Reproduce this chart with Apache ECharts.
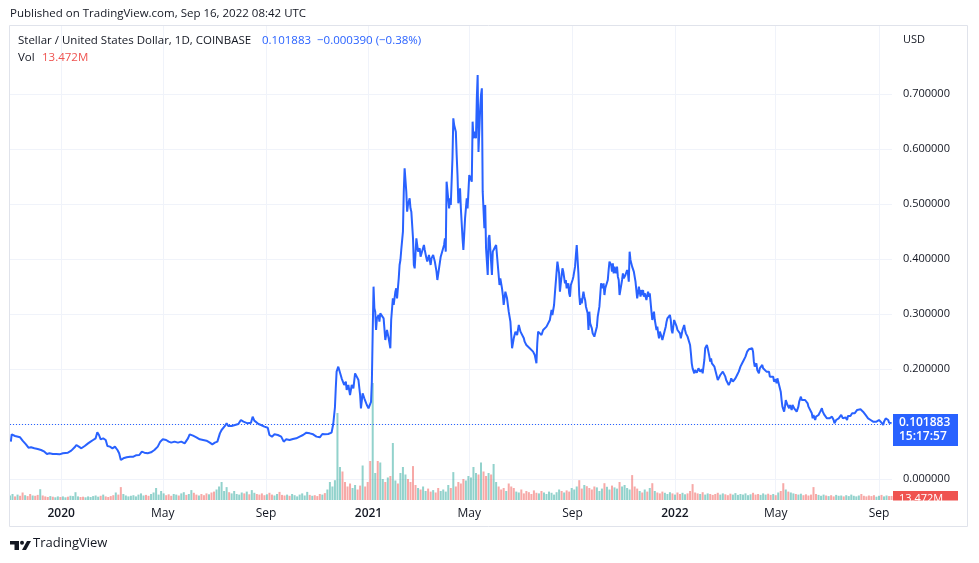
<!DOCTYPE html>
<html><head><meta charset="utf-8">
<script src="https://cdn.jsdelivr.net/npm/echarts@6/dist/echarts.min.js"></script>
<style>html,body{margin:0;padding:0;background:#fff}#c{width:979px;height:563px}</style>
</head><body><div id="c"></div>
<script>
// ---- data ----
const START_DATE = '2019-11-01';          // day 0
// [day offset from START_DATE, close price USD]
const pricePoints = [
[1,.0679],[2,.0812],[6,.0782],[8,.0812],[12,.0758],[15,.0697],[19,.0630],[22,.0570],[25,.0576],[29,.0558],[33,.0545],[37,.0527],[41,.0497],[44,.0455],[47,.0467],[51,.0455],[55,.0455],[59,.0448],[63,.0467],[65,.0485],[69,.0479],[73,.0515],[77,.0576],[79,.0618],[82,.0588],[85,.0558],[89,.0600],[93,.0648],[96,.0679],[99,.0709],[102,.0739],[104,.0848],[106,.0800],[108,.0721],[111,.0739],[114,.0709],[116,.0600],[119,.0588],[122,.0558],[125,.0588],[128,.0527],[130,.0467],[132,.0345],[135,.0376],[139,.0394],[143,.0406],[147,.0406],[150,.0430],[154,.0436],[157,.0497],[160,.0479],[164,.0467],[168,.0485],[172,.0527],[176,.0588],[179,.0679],[182,.0721],[186,.0709],[189,.0679],[192,.0661],[196,.0679],[200,.0661],[204,.0679],[208,.0648],[212,.0739],[214,.0812],[218,.0788],[222,.0758],[226,.0721],[230,.0709],[234,.0697],[238,.0661],[241,.0630],[244,.0661],[247,.0679],[250,.0830],[252,.0891],[256,.0964],[258,.1012],[260,.0964],[264,.0964],[268,.0982],[272,.1000],[275,.1073],[278,.1042],[280,.1061],[283,.1012],[287,.1024],[289,.1133],[291,.1061],[293,.1042],[296,.1000],[299,.0982],[303,.0952],[307,.0933],[309,.0800],[312,.0770],[315,.0812],[319,.0800],[323,.0770],[326,.0679],[329,.0721],[333,.0709],[337,.0727],[341,.0739],[345,.0770],[349,.0800],[353,.0842],[357,.0830],[361,.0812],[365,.0770],[369,.0758],[372,.0818],[375,.0812],[379,.0818],[383,.0842],[385,.1000],[386,.1150],[387,.1300],[388,.1650],[389,.1952],
[391,.2042],[393,.2012],[395,.1830],[397,.1861],[398,.1709],[400,.1770],[401,.1618],[403,.1709],[405,.1527],[407,.1709],[409,.1648],[411,.1921],[413,.1861],[415,.1800],[417,.1527],[418,.1285],[420,.1558],[422,.1467],[425,.1345],[427,.1285],[429,.1315],[430,.1400],[431,.1770],[432,.2679],[433,.3497],[434,.3103],[435,.3042],[436,.2709],[437,.2921],[439,.2982],[440,.2861],[441,.3012],[443,.3042],[445,.2921],[447,.2527],[449,.2709],[450,.2679],[451,.2558],[453,.2376],[454,.2891],[455,.2921],[456,.3285],[457,.3164],[459,.3406],[460,.3467],[461,.3285],[463,.3648],[464,.3891],[465,.3982],[466,.4164],[468,.4497],[469,.5224],[470,.5648],[472,.5224],[473,.4861],[474,.4982],[476,.5103],[477,.4921],[478,.4861],[480,.4376],[481,.3891],[482,.3830],[484,.4376],[485,.4255],[486,.4133],[488,.4194],[489,.4042],[491,.4073],[493,.4255],[494,.4164],[496,.4012],[497,.3952],[499,.4073],[501,.3891],[502,.4012],[504,.4073],[506,.3952],[508,.3770],[509,.3618],[511,.3830],[513,.4042],[515,.4073],[517,.4255],[518,.4376],[519,.4133],[520,.5406],[522,.5436],[523,.4921],[524,.5103],[525,.4982],[527,.5830],[528,.6558],[529,.6436],[531,.6315],[532,.5891],[533,.5527],[534,.5012],[536,.5285],[537,.4921],[539,.4376],[540,.4164],[542,.4739],[544,.5103],[545,.4921],[547,.5527],[548,.5558],[550,.5406],[551,.6497],[552,.6194],[553,.6315],[555,.6194],[556,.6921],[557,.7345],[558,.5945],[560,.6739],[561,.6982],[562,.7103],[563,.5224],[565,.4558],[566,.4982],[567,.4194],[569,.3709],[570,.4376],[571,.4436],[573,.3952],[574,.3709],[575,.4133],[577,.4194],[579,.4255],[581,.3891],[583,.3527],[584,.3648],[586,.3467],[587,.3345],[588,.3164],[590,.3406],[592,.3285],[594,.3042],[596,.2861],[598,.2376],[600,.2558],[602,.2679],[604,.2618],[606,.2800],[608,.2679],[610,.2648],[612,.2558],[613,.2497],
[615,.2436],[617,.2406],[619,.2376],[621,.2345],[623,.2315],[625,.2255],[627,.2103],[628,.2467],[629,.2679],[631,.2648],[633,.2618],[635,.2709],[637,.2739],[639,.2770],[641,.2800],[643,.2891],[645,.3073],[646,.2982],[648,.3164],[649,.3376],[650,.3345],[652,.3952],[653,.3921],[654,.3739],[655,.3406],[656,.3558],[658,.3830],[659,.3770],[660,.3739],[661,.3558],[662,.3618],[663,.3467],[665,.3558],[666,.3376],[667,.3315],[668,.3527],[670,.3618],[671,.3679],[673,.3861],[674,.4073],[675,.4255],[677,.3739],[678,.3345],[679,.3164],[680,.3285],[681,.3194],[683,.3406],[684,.3315],[685,.3255],[686,.3133],[688,.3012],[689,.2709],[690,.3042],[691,.2830],[693,.2739],[694,.2648],[696,.2588],[697,.2648],[699,.2770],[700,.2952],[702,.3133],[703,.3164],[704,.3558],[706,.3467],[707,.3558],[708,.3345],[709,.3467],[711,.3467],[712,.3618],[713,.3800],[714,.3952],[716,.3891],[717,.3770],[718,.3921],[719,.3739],[720,.3861],[722,.3739],[723,.3861],[724,.3679],[725,.3618],[726,.3345],[727,.3436],[729,.3618],[730,.3739],[731,.3648],[732,.3618],[733,.3709],[735,.3800],[736,.3739],[737,.3588],[738,.4133],[739,.3982],[741,.3861],[742,.3830],[743,.3770],[745,.3588],[746,.3436],[747,.3285],[748,.3376],[749,.3497],[751,.3315],[752,.3436],[753,.3345],[754,.3436],[755,.3315],[756,.3376],[758,.3255],[759,.3345],[760,.3406],[761,.3315],[762,.3376],[764,.3042],[765,.2891],[766,.2861],[767,.3042],[768,.2891],[770,.2709],[771,.2770],[772,.2648],[773,.2558],[774,.2679],[776,.2588],[777,.2527],[778,.2558],[780,.2709],[781,.2770],[782,.2861],[783,.2921],[785,.2952],[786,.2982],[787,.2891],[788,.2709],[789,.2648],[791,.2891],[792,.2921],[793,.2861],[794,.2770],[795,.2709],[797,.2679],[798,.2648],[799,.2558],[801,.2709],[802,.2739],[803,.2800],[804,.2709],[805,.2648],[807,.2588],[808,.2558],[810,.2436],[811,.2285],[812,.2103],[813,.2012],
[815,.1921],[816,.1982],[818,.1933],[820,.2012],[822,.1952],[824,.1994],[825,.1921],[827,.2164],[828,.2376],[830,.2436],[831,.2376],[833,.2224],[834,.2133],[835,.2194],[836,.2103],[838,.2133],[839,.2042],[840,.1982],[842,.1952],[843,.1800],[844,.1830],[846,.1891],[848,.1921],[849,.1952],[851,.1982],[852,.1861],[853,.1800],[855,.1830],[856,.1709],[858,.1770],[859,.1830],[861,.1770],[862,.1800],[864,.1830],[866,.1891],[868,.1952],[870,.2042],[872,.2103],[874,.2164],[876,.2224],[878,.2315],[880,.2358],[882,.2345],[884,.2376],[885,.2315],[886,.2133],[887,.2042],[889,.2103],[890,.1982],[892,.1921],[893,.2012],[895,.2042],[896,.2073],[897,.2012],[899,.2042],[901,.1952],[902,.1982],[904,.1952],[905,.1861],[907,.1830],[909,.1861],[910,.1770],[912,.1812],[913,.1739],[914,.1830],[916,.1709],[917,.1679],[918,.1588],[919,.1436],[920,.1315],[922,.1224],[923,.1315],[924,.1436],[925,.1406],[926,.1345],[928,.1285],[929,.1345],[931,.1255],[932,.1345],[934,.1285],[936,.1255],[937,.1224],[939,.1315],[940,.1406],[942,.1497],[943,.1436],[945,.1467],[947,.1436],[948,.1406],[950,.1376],[951,.1315],[953,.1285],[955,.1194],[956,.1103],[957,.1164],[959,.1073],[960,.1133],[962,.1103],[963,.1164],[965,.1224],[967,.1285],[968,.1224],[970,.1164],[971,.1133],[973,.1103],[974,.1133],[976,.1103],[978,.1121],[979,.1133],[981,.1073],[982,.1012],[984,.1073],[986,.1042],[987,.1103],[989,.1121],[990,.1164],[992,.1103],[993,.1073],[995,.1121],[997,.1073],[998,.1145],[1000,.1121],[1001,.1145],[1003,.1194],[1005,.1224],[1006,.1194],[1008,.1224],[1009,.1255],[1011,.1285],[1013,.1267],[1014,.1255],[1016,.1224],[1017,.1194],[1019,.1164],[1021,.1133],[1022,.1103],[1024,.1073],[1025,.1073],[1027,.1085],[1028,.1042],[1030,.1061],[1032,.1042],[1033,.1042],[1035,.1073],[1036,.1042],[1038,.1024],[1040,.0982],[1041,.1042],[1043,.1103],[1044,.1133],[1046,.1073],[1047,.1024],[1049,.1023],[1050,.101883]
];
// volume (millions), one bar every VOLUME_STEP days starting at day 0
const VOLUME_STEP = 3;
const volumes = [
15,20,12,18,14,25,16,13,20,15,
14,17,36,15,12,10,13,11,9,12,
10,12,9,11,14,13,26,12,10,11,
9,12,10,13,15,11,14,18,12,10,
13,16,25,18,43,20,15,12,14,16,
12,18,22,15,17,14,20,25,40,18,
30,22,16,19,14,20,18,15,22,26,
17,20,33,24,18,15,20,16,22,19,
25,28,35,45,60,30,43,26,22,30,
20,18,25,22,28,19,33,24,20,18,
22,16,19,24,18,15,20,27,17,15,
18,14,20,16,12,18,22,15,27,17,
14,16,13,20,18,23,35,60,45,66,
290,110,95,60,45,55,40,50,35,48,
115,45,60,130,390,90,130,125,70,60,
75,80,190,65,55,90,110,85,70,60,
113,50,40,35,45,30,38,28,33,25,
40,30,35,28,50,40,93,45,60,55,
70,65,80,75,110,90,85,125,95,80,
90,85,120,60,45,35,40,30,55,45,
40,28,25,35,22,30,26,20,32,24,
22,30,25,20,28,24,18,26,35,30,
25,32,28,40,35,45,66,38,50,46,
40,35,45,42,30,38,56,44,35,48,
42,38,60,45,50,40,35,83,45,38,
30,25,35,28,40,56,30,25,22,28,
24,20,26,22,18,25,20,24,19,22,
30,53,25,22,20,26,18,22,20,17,
20,24,18,22,19,16,21,18,23,17,
20,18,22,16,19,24,18,20,17,22,
18,21,17,20,16,25,30,56,35,28,
25,22,20,18,21,16,19,15,18,43,
20,17,14,18,15,13,16,12,17,14,
15,12,16,13,18,14,12,15,20,14,
12,15,13,16,11,14,17,12,15,13,13.472
];
const tickDates  = ['2020-01-01','2020-05-01','2020-09-01','2021-01-01','2021-05-01','2021-09-01','2022-01-01','2022-05-01','2022-09-01'];
const tickLabels = ['2020','May','Sep','2021','May','Sep','2022','May','Sep'];
const priceTicks = [0,0.1,0.2,0.3,0.4,0.5,0.6,0.7];
const lastPrice = pricePoints[pricePoints.length-1][1];
const lastVolume = volumes[volumes.length-1];
const lastTime = '15:17:57';

// ---- build ----
const DAY = 86400000;
const t0 = Date.parse(START_DATE + 'T00:00:00Z');
const tickDays = tickDates.map(d => Math.round((Date.parse(d + 'T00:00:00Z') - t0) / DAY));
function priceAt(day){ let v = pricePoints[0][1]; for (const p of pricePoints){ if (p[0] <= day) v = p[1]; else break; } return v; }
const UP = 'rgba(38,166,154,0.5)', DOWN = 'rgba(239,83,80,0.5)';
const volData = volumes.map((v,i) => {
  const d = i*VOLUME_STEP;
  const up = priceAt(d) >= priceAt(d - VOLUME_STEP);
  return { value: [d, v], itemStyle: { color: up ? UP : DOWN } };
});
const lastDay = pricePoints[pricePoints.length-1][0];
const FONT = 'Open Sans';
const chart = echarts.init(document.getElementById('c'), null, {renderer:'canvas'});
chart.setOption({
  animation: false,
  backgroundColor: '#ffffff',
  textStyle: { fontFamily: FONT },
  grid: { left: 10, right: 87, top: 26, bottom: 63, containLabel: false },
  xAxis: {
    type: 'value', min: 0, max: lastDay + 0.5,
    axisLine: { show: false }, axisTick: { show: false, customValues: tickDays },
    splitLine: { show: true, lineStyle: { color: '#f0f3fa', width: 1 } },
    axisLabel: {
      customValues: tickDays, margin: 8, hideOverlap: false, showMinLabel: true, showMaxLabel: true,
      formatter: (val) => { const i = tickDays.indexOf(Math.round(val)); const t = i >= 0 ? tickLabels[i] : ''; return /^\d{4}$/.test(t) ? '{y|' + t + '}' : '{m|' + t + '}'; },
      rich: { y: { fontSize: 12, fontWeight: 600, color: '#131722', fontFamily: FONT }, m: { fontSize: 12, color: '#131722', fontFamily: FONT } }
    }
  },
  yAxis: [{
    type: 'value', position: 'right', min: -0.0382, max: 0.8236,
    axisLine: { show: false }, axisTick: { show: false, customValues: priceTicks },
    splitLine: { show: true, lineStyle: { color: '#f0f3fa', width: 1 } },
    axisLabel: { customValues: priceTicks, margin: 11, color: '#131722', fontSize: 11, fontFamily: FONT, formatter: v => v.toFixed(6) }
  }, {
    type: 'value', min: 0, max: 1580, show: false, splitLine: { show: false }
  }],
  series: [{
    type: 'bar', yAxisIndex: 1, data: volData, barWidth: 2, barGap: '-100%', z: 1,
    markLine: {
      silent: true, symbol: 'none', lineStyle: { color: 'rgba(0,0,0,0)', width: 0 },
      data: [{ yAxis: lastVolume }],
      label: { show: true, position: 'end', distance: 1, formatter: lastVolume.toFixed(3) + 'M', color: '#fff', backgroundColor: '#ef5350', fontSize: 11, fontFamily: FONT, padding: [2, 6, 3, 6], width: 53, align: 'left', offset: [0, 3] }
    }
  }, {
    type: 'line', data: pricePoints, showSymbol: false, symbol: 'none', z: 3,
    lineStyle: { color: '#2962ff', width: 2 }, itemStyle: { color: '#2962ff' },
    markLine: {
      silent: true, symbol: 'none',
      lineStyle: { color: '#2962ff', width: 1, type: [1, 2] },
      data: [{ yAxis: lastPrice }],
      label: { position: 'end', distance: 1, formatter: lastPrice.toFixed(6) + '\n' + lastTime, color: '#fff', backgroundColor: '#2962ff', fontSize: 12, fontWeight: 600, lineHeight: 14, fontFamily: FONT, padding: [2, 6, 2, 6], width: 53, align: 'left', offset: [0, 6] }
    }
  }],
  graphic: [
    { type: 'rect', z: 100, silent: true, shape: { x: 893, y: 500.5, width: 74, height: 26 }, style: { fill: '#fff' } },
    { type: 'rect', z: 101, silent: true, shape: { x: 9.5, y: 25.5, width: 958, height: 501 }, style: { fill: 'none', stroke: '#e0e3eb', lineWidth: 1 } },
    { type: 'text', z: 101, left: 10, top: 8, style: { text: 'Published on TradingView.com, Sep 16, 2022 08:42 UTC', fill: '#131722', font: '11.5px "Open Sans"' } },
    { type: 'text', z: 101, left: 18, top: 35, style: { text: 'Stellar / United States Dollar, 1D, COINBASE', fill: '#131722', font: '11.5px "Open Sans"' } },
    { type: 'text', z: 101, left: 262, top: 35, style: { text: '0.101883  \u22120.000390 (\u22120.38%)', fill: '#2962ff', font: '11.5px "Open Sans"' } },
    { type: 'text', z: 101, left: 18, top: 52, style: { text: 'Vol', fill: '#131722', font: '11.5px "Open Sans"' } },
    { type: 'text', z: 101, left: 42, top: 52, style: { text: '13.472M', fill: '#ef5350', font: '11.5px "Open Sans"' } },
    { type: 'text', z: 101, left: 903, top: 34, style: { text: 'USD', fill: '#131722', font: '11px "Open Sans"' } },
    { type: 'rect', z: 101, shape: { x: 10, y: 541, width: 9, height: 3.5 }, style: { fill: '#131722' } },
    { type: 'rect', z: 101, shape: { x: 14.5, y: 541, width: 4.5, height: 9 }, style: { fill: '#131722' } },
    { type: 'circle', z: 101, shape: { cx: 22, cy: 542.8, r: 2 }, style: { fill: '#131722' } },
    { type: 'polygon', z: 101, shape: { points: [[22, 550], [26, 550], [31, 541], [27, 541]] }, style: { fill: '#131722' } },
    { type: 'text', z: 101, left: 33, top: 537, style: { text: 'TradingView', fill: '#131722', font: '13px "Open Sans"' } }
  ]
});
</script></body></html>
